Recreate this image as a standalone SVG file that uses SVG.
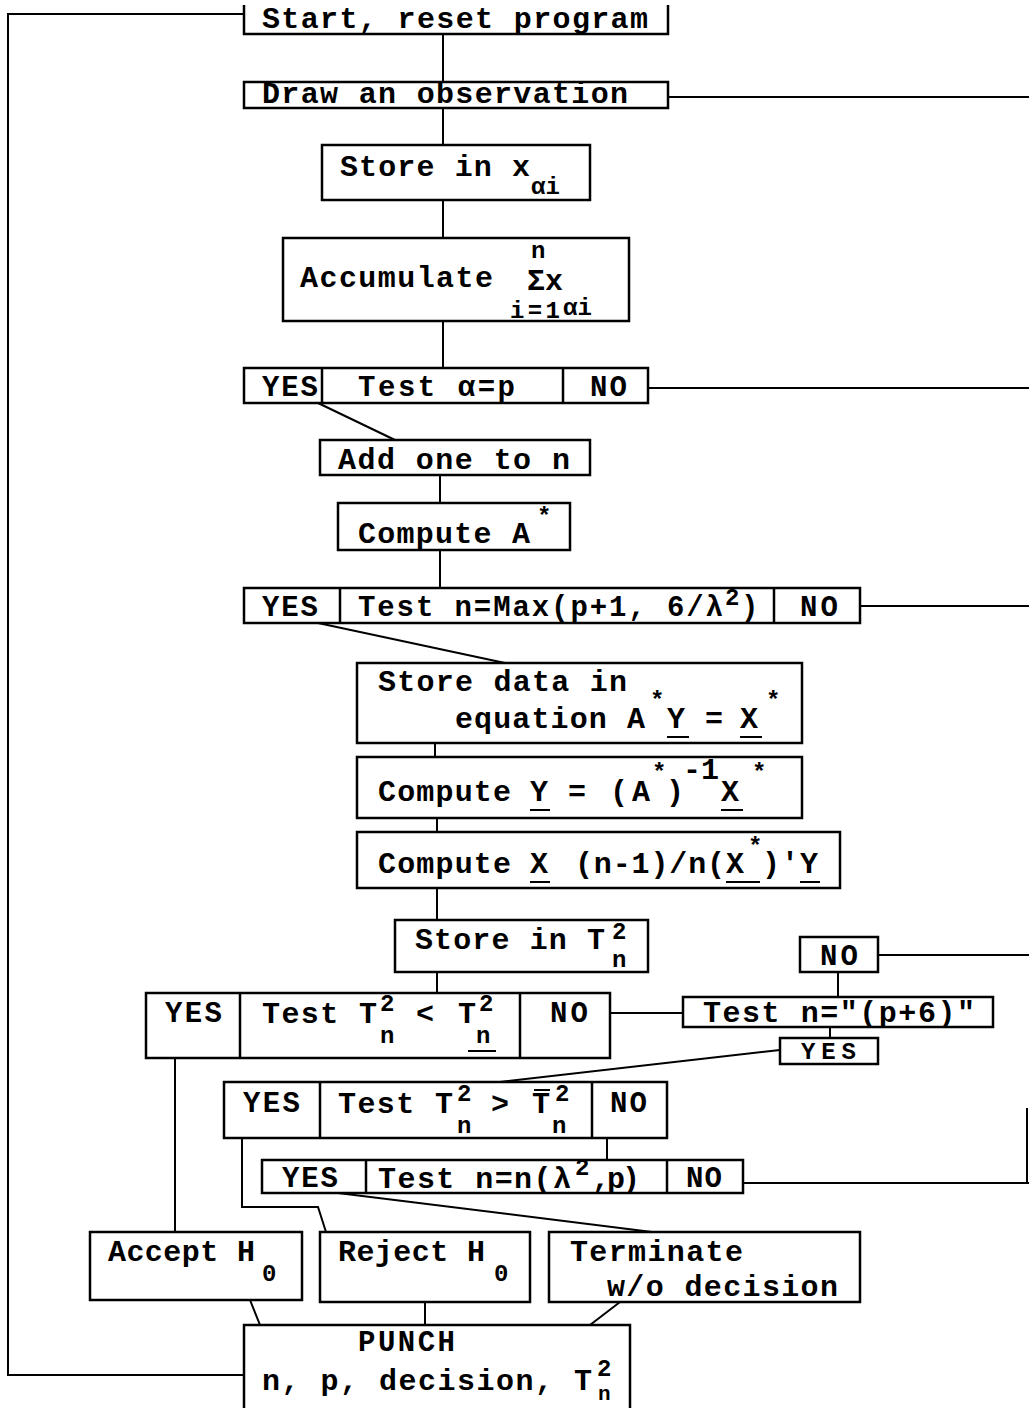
<svg xmlns="http://www.w3.org/2000/svg" width="1029" height="1408" viewBox="0 0 1029 1408">
<style>
.b{fill:none;stroke:#000;stroke-width:2.5}
.c{fill:none;stroke:#000;stroke-width:2}
text{font-family:"Liberation Mono","DejaVu Sans Mono",monospace;font-weight:bold;font-size:30px;fill:#000}
.s{font-size:24px}
.y{font-size:29px}
</style>
<rect width="1029" height="1408" fill="#fff"/>
<g id="connectors">
<path class="c" d="M244 14 H8 V1375 H244"/>
<path class="c" d="M443 34 V82 M443 108 V145 M443 200 V238 M443 321 V368"/>
<path class="c" d="M668 97 H1029 M648 388 H1029 M860 606 H1029"/>
<path class="c" d="M318 403 L395 440 M440 475 V503 M440 550 V588"/>
<path class="c" d="M318 623 L505 663 M435 743 V757 M437 818 V832 M437 888 V920 M437 972 V993"/>
<path class="c" d="M610 1013 H683 M878 955 H1029 M838 972 V997 M830 1027 V1038 M780 1050 L500 1082"/>
<path class="c" d="M607 1138 V1160 M743 1183 H1029 M1027 1108 V1183"/>
<path class="c" d="M175 1058 V1232 M242 1138 V1207 H318 L326 1232 M338 1193 L652 1232"/>
<path class="c" d="M250 1300 L260 1325 M425 1302 V1325 M620 1302 L590 1325"/>
</g>
<g id="start">
<path class="b" d="M244 5 V34 H668 V5"/>
<text x="262" y="28" textLength="386" lengthAdjust="spacing">Start, reset program</text>
</g>
<g id="draw">
<rect class="b" x="244" y="82" width="424" height="26"/>
<text x="262" y="103" textLength="366" lengthAdjust="spacing">Draw an observation</text>
</g>
<g id="store-x">
<rect class="b" x="322" y="145" width="268" height="55"/>
<text x="340" y="176" textLength="190" lengthAdjust="spacing">Store in x</text>
<text class="s" x="531" y="194">αi</text>
</g>
<g id="accumulate">
<rect class="b" x="283" y="238" width="346" height="83"/>
<text x="300" y="287" textLength="193" lengthAdjust="spacing">Accumulate</text>
<text class="s" x="531" y="258">n</text>
<text x="527" y="290">Σx</text>
<text class="s" x="510" y="318" textLength="50" lengthAdjust="spacing">i=1</text>
<text class="s" x="563" y="315">αi</text>
</g>
<g id="test-alpha">
<rect class="b" x="244" y="368" width="404" height="35"/>
<path class="b" d="M322 368 V403 M563 368 V403"/>
<text class="y" x="262" y="396" textLength="56" lengthAdjust="spacing">YES</text>
<text class="y" x="358" y="396" textLength="157" lengthAdjust="spacing">Test α=p</text>
<text class="y" x="590" y="396" textLength="37" lengthAdjust="spacing">NO</text>
</g>
<g id="add-one">
<rect class="b" x="320" y="440" width="270" height="35"/>
<text x="338" y="469" textLength="232" lengthAdjust="spacing">Add one to n</text>
</g>
<g id="compute-a">
<rect class="b" x="338" y="503" width="232" height="47"/>
<text x="358" y="543" textLength="172" lengthAdjust="spacing">Compute A</text>
<text class="s" x="537" y="524">*</text>
</g>
<g id="test-max">
<rect class="b" x="244" y="588" width="616" height="35"/>
<path class="b" d="M340 588 V623 M774 588 V623"/>
<text class="y" x="262" y="616" textLength="56" lengthAdjust="spacing">YES</text>
<text class="y" x="358" y="616" textLength="365" lengthAdjust="spacing">Test n=Max(p+1, 6/λ</text>
<text class="s" x="725" y="605">2</text>
<text class="y" x="741" y="616">)</text>
<text class="y" x="800" y="616" textLength="38" lengthAdjust="spacing">NO</text>
</g>
<g id="store-data">
<rect class="b" x="357" y="663" width="445" height="80"/>
<text x="378" y="691" textLength="249" lengthAdjust="spacing">Store data in</text>
<text x="455" y="728" textLength="190" lengthAdjust="spacing">equation A</text>
<text class="s" x="650" y="708">*</text>
<text x="667" y="728">Y</text>
<text x="705" y="728">=</text>
<text x="740" y="728">X</text>
<text class="s" x="766" y="708">*</text>
<path class="c" d="M667 737 H689 M740 737 H762"/>
</g>
<g id="compute-y">
<rect class="b" x="357" y="757" width="445" height="61"/>
<text x="378" y="801" textLength="133" lengthAdjust="spacing">Compute</text>
<text x="530" y="801">Y</text>
<text x="568" y="801">=</text>
<text x="610" y="801" textLength="40" lengthAdjust="spacing">(A</text>
<text class="s" x="652" y="780">*</text>
<text x="666" y="801">)</text>
<text x="683" y="779" textLength="36" lengthAdjust="spacing">-1</text>
<text x="721" y="801">X</text>
<text class="s" x="752" y="780">*</text>
<path class="c" d="M530 810 H550 M721 810 H743"/>
</g>
<g id="compute-x">
<rect class="b" x="357" y="832" width="483" height="56"/>
<text x="378" y="873" textLength="133" lengthAdjust="spacing">Compute</text>
<text x="530" y="873">X</text>
<text x="575" y="873" textLength="150" lengthAdjust="spacing">(n-1)/n(</text>
<text x="726" y="873">X</text>
<text class="s" x="748" y="854">*</text>
<text x="762" y="873">)</text>
<text x="781" y="873">'</text>
<text x="800" y="873">Y</text>
<path class="c" d="M530 882 H550 M726 882 H760 M800 882 H820"/>
</g>
<g id="store-t">
<rect class="b" x="395" y="920" width="253" height="52"/>
<text x="415" y="949" textLength="190" lengthAdjust="spacing">Store in T</text>
<text class="s" x="612" y="939">2</text>
<text class="s" x="612" y="967">n</text>
</g>
<g id="test-less">
<rect class="b" x="146" y="993" width="464" height="65"/>
<path class="b" d="M240 993 V1058 M520 993 V1058"/>
<text class="y" x="165" y="1022" textLength="57" lengthAdjust="spacing">YES</text>
<text x="262" y="1023" textLength="115" lengthAdjust="spacing">Test T</text>
<text class="s" x="380" y="1011">2</text>
<text class="s" x="380" y="1043">n</text>
<text x="416" y="1023">&lt;</text>
<text x="458" y="1023">T</text>
<text class="s" x="479" y="1011">2</text>
<text class="s" x="476" y="1043">n</text>
<path class="c" d="M468 1051 H496"/>
<text class="y" x="550" y="1022" textLength="38" lengthAdjust="spacing">NO</text>
</g>
<g id="test-p6">
<rect class="b" x="683" y="997" width="310" height="30"/>
<text x="703" y="1022" textLength="272" lengthAdjust="spacing">Test n="(p+6)"</text>
</g>
<g id="no-p6">
<rect class="b" x="800" y="937" width="78" height="35"/>
<text class="y" x="820" y="965" textLength="38" lengthAdjust="spacing">NO</text>
</g>
<g id="yes-p6">
<rect class="b" x="780" y="1038" width="98" height="26"/>
<text class="s" x="801" y="1059" textLength="55" lengthAdjust="spacing">YES</text>
</g>
<g id="test-greater">
<rect class="b" x="224" y="1082" width="443" height="56"/>
<path class="b" d="M320 1082 V1138 M592 1082 V1138"/>
<text class="y" x="243" y="1112" textLength="57" lengthAdjust="spacing">YES</text>
<text x="338" y="1113" textLength="115" lengthAdjust="spacing">Test T</text>
<text class="s" x="457" y="1101">2</text>
<text class="s" x="457" y="1133">n</text>
<text x="491" y="1113">&gt;</text>
<text x="532" y="1113">T</text>
<path class="c" d="M534 1090 H550"/>
<text class="s" x="555" y="1101">2</text>
<text class="s" x="552" y="1133">n</text>
<text class="y" x="610" y="1112" textLength="37" lengthAdjust="spacing">NO</text>
</g>
<g id="test-nlambda">
<rect class="b" x="262" y="1160" width="481" height="33"/>
<path class="b" d="M366 1160 V1193 M667 1160 V1193"/>
<text class="y" x="282" y="1187" textLength="56" lengthAdjust="spacing">YES</text>
<text x="378" y="1188" textLength="193" lengthAdjust="spacing">Test n=n(λ</text>
<text class="s" x="575" y="1175">2</text>
<text x="592" y="1188" textLength="48" lengthAdjust="spacing">,p)</text>
<text class="y" x="686" y="1187" textLength="36" lengthAdjust="spacing">NO</text>
</g>
<g id="accept">
<rect class="b" x="90" y="1232" width="212" height="68"/>
<text x="108" y="1261" textLength="147" lengthAdjust="spacing">Accept H</text>
<text class="s" x="262" y="1281">0</text>
</g>
<g id="reject">
<rect class="b" x="320" y="1232" width="210" height="70"/>
<text x="338" y="1261" textLength="147" lengthAdjust="spacing">Reject H</text>
<text class="s" x="494" y="1281">0</text>
</g>
<g id="terminate">
<rect class="b" x="549" y="1232" width="311" height="70"/>
<text x="570" y="1261" textLength="173" lengthAdjust="spacing">Terminate</text>
<text x="607" y="1296" textLength="231" lengthAdjust="spacing">w/o decision</text>
</g>
<g id="punch">
<path class="b" d="M244 1410 V1325 H630 V1410"/>
<text class="y" x="358" y="1351" textLength="97" lengthAdjust="spacing">PUNCH</text>
<text x="262" y="1390" textLength="330" lengthAdjust="spacing">n, p, decision, T</text>
<text class="s" x="597" y="1376">2</text>
<text class="s" x="598" y="1400" style="font-size:21px">n</text>
</g>
</svg>
